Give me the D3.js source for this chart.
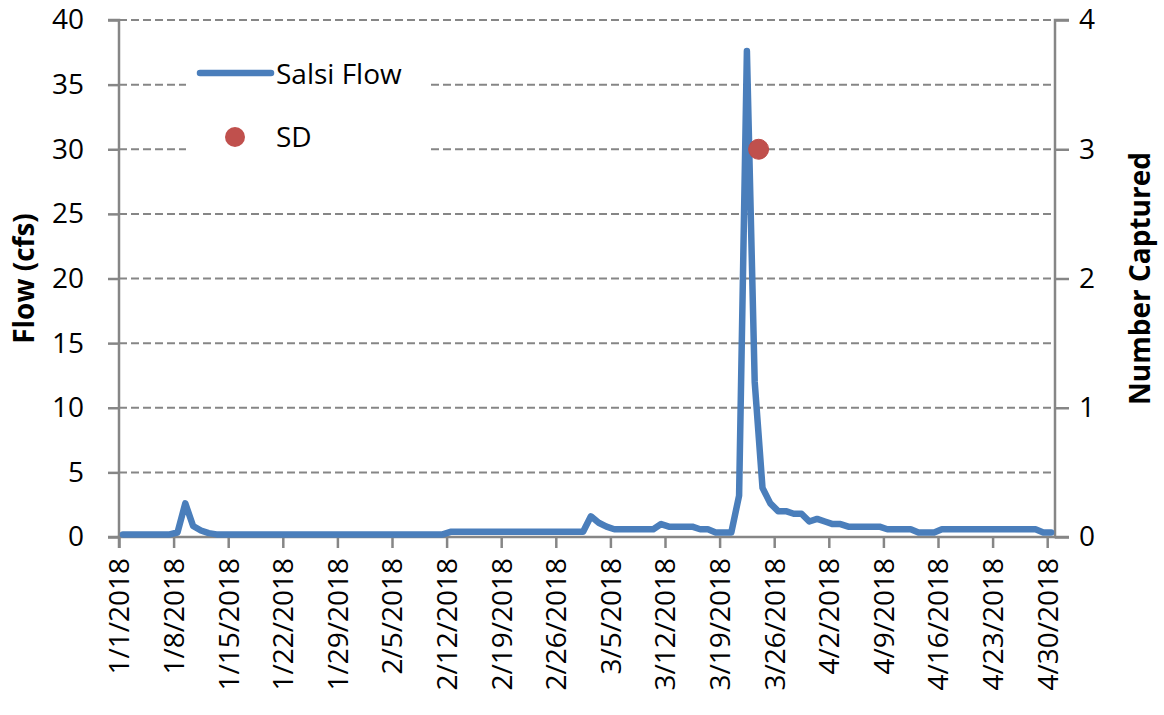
<!DOCTYPE html>
<html>
<head>
<meta charset="utf-8">
<script src="https://cdn.jsdelivr.net/npm/d3@7"></script>
<style>
  html, body { margin: 0; padding: 0; background: #ffffff; }
  svg { display: block; }
  text { font-family: "Open Sans", "Liberation Sans", sans-serif; fill: #000; }
</style>
</head>
<body>
<svg id="chart" width="1164" height="715"></svg>
<script>
// ---------- data ----------
const startDate = "2018-01-01";   // first daily value (1/1/2018)
const endDate = "2018-05-01";     // end of axis range
const flowValues = [
  0.2, 0.2, 0.2, 0.2, 0.2, 0.2, 0.2, 0.35, 2.6, 0.85,
  0.5, 0.3, 0.2, 0.2, 0.2, 0.2, 0.2, 0.2, 0.2, 0.2,
  0.2, 0.2, 0.2, 0.2, 0.2, 0.2, 0.2, 0.2, 0.2, 0.2,
  0.2, 0.2, 0.2, 0.2, 0.2, 0.2, 0.2, 0.2, 0.2, 0.2,
  0.2, 0.2, 0.4, 0.4, 0.4, 0.4, 0.4, 0.4, 0.4, 0.4,
  0.4, 0.4, 0.4, 0.4, 0.4, 0.4, 0.4, 0.4, 0.4, 0.4,
  1.6, 1.1, 0.8, 0.6, 0.6, 0.6, 0.6, 0.6, 0.6, 1.0,
  0.8, 0.8, 0.8, 0.8, 0.6, 0.6, 0.35, 0.35, 0.35, 3.2,
  37.6, 12.0, 3.8, 2.6, 2.0, 2.0, 1.8, 1.8, 1.2, 1.4,
  1.2, 1.0, 1.0, 0.8, 0.8, 0.8, 0.8, 0.8, 0.6, 0.6,
  0.6, 0.6, 0.35, 0.35, 0.35, 0.6, 0.6, 0.6, 0.6, 0.6,
  0.6, 0.6, 0.6, 0.6, 0.6, 0.6, 0.6, 0.6, 0.35, 0.35
];
const sdDates = ["2018-03-24"];
const sdValues = [3];
const xTickLabels = ["1/1/2018","1/8/2018","1/15/2018","1/22/2018","1/29/2018","2/5/2018",
  "2/12/2018","2/19/2018","2/26/2018","3/5/2018","3/12/2018","3/19/2018","3/26/2018",
  "4/2/2018","4/9/2018","4/16/2018","4/23/2018","4/30/2018"];
const yLeftTicks = [0, 5, 10, 15, 20, 25, 30, 35, 40];
const yRightTicks = [0, 1, 2, 3, 4];
const seriesNames = ["Salsi Flow", "SD"];
const axisTitles = { left: "Flow (cfs)", right: "Number Captured" };

// ---------- layout ----------
const svg = d3.select("#chart");
const plot = { left: 119, right: 1055, top: 20, bottom: 537 };
const gridColor = "#868686";
const lineColor = "#4A7EBB";
const markerColor = "#C0504D";

const parse = d3.timeParse("%Y-%m-%d");
const parseLabel = d3.timeParse("%m/%d/%Y");
const t0 = parse(startDate);
const flowData = flowValues.map((v, i) => ({ date: d3.timeDay.offset(t0, i), value: v }));
const sdData = sdDates.map((d, i) => ({ date: parse(d), value: sdValues[i] }));

const x = d3.scaleTime().domain([t0, parse(endDate)]).range([plot.left, plot.right]);
const yL = d3.scaleLinear().domain([0, 40]).range([plot.bottom, plot.top]);
const yR = d3.scaleLinear().domain([0, 4]).range([plot.bottom, plot.top]);

// gridlines
svg.append("g").selectAll("line").data(yLeftTicks.filter(d => d > 0)).join("line")
  .attr("x1", plot.left).attr("x2", plot.right)
  .attr("y1", d => yL(d)).attr("y2", d => yL(d))
  .attr("stroke", gridColor).attr("stroke-width", 2).attr("stroke-dasharray", "8,4");

// legend background (covers gridlines)
svg.append("rect").attr("x", 186).attr("y", 45).attr("width", 241).attr("height", 125).attr("fill", "#fff");

// left axis
const axisL = d3.axisLeft(yL).tickValues(yLeftTicks).tickSize(11).tickPadding(24).tickFormat(d3.format("d"));
const gL = svg.append("g").attr("transform", `translate(${plot.left},0)`).call(axisL);
// right axis
const axisR = d3.axisRight(yR).tickValues(yRightTicks).tickSize(14).tickPadding(10).tickFormat(d3.format("d"));
const gR = svg.append("g").attr("transform", `translate(${plot.right},0)`).call(axisR);
// bottom axis
const tickDates = xTickLabels.map(s => parseLabel(s));
const axisB = d3.axisBottom(x).tickValues(tickDates).tickSize(11).tickFormat((d, i) => xTickLabels[i]);
const gB = svg.append("g").attr("transform", `translate(0,${plot.bottom})`).call(axisB);

[gL, gR, gB].forEach(g => {
  g.select(".domain").attr("stroke", gridColor).attr("stroke-width", 2.5);
  g.selectAll(".tick line").attr("stroke", gridColor).attr("stroke-width", 2.5);
  g.selectAll("text").attr("font-size", 28).attr("fill", "#000")
    .style("font-family", '"Open Sans", "Liberation Sans", sans-serif');
});
gL.select(".domain").attr("d", `M-11,${plot.top}H0V${plot.bottom}H-11`);
gR.select(".domain").attr("d", `M14,${plot.top}H0V${plot.bottom}H14`);
gB.select(".domain").attr("d", `M${plot.left},11V0H${plot.right}`);
gB.selectAll(".tick text")
  .attr("text-anchor", "end")
  .attr("transform", "rotate(-90)")
  .attr("x", -21).attr("y", 0).attr("dy", "0.35em");

// flow line (daily values plotted at mid-day)
const line = d3.line()
  .x(d => x(d3.timeHour.offset(d.date, 12)))
  .y(d => yL(d.value));
svg.append("path").datum(flowData)
  .attr("d", line).attr("fill", "none")
  .attr("stroke", lineColor).attr("stroke-width", 6.5)
  .attr("stroke-linejoin", "round").attr("stroke-linecap", "round");

// SD markers
svg.append("g").selectAll("circle").data(sdData).join("circle")
  .attr("cx", d => x(d.date)).attr("cy", d => yR(d.value)).attr("r", 10)
  .attr("fill", markerColor).attr("stroke", "#BE4B48").attr("stroke-width", 1);

// legend
const lg = svg.append("g");
lg.append("line").attr("x1", 200).attr("x2", 271).attr("y1", 73).attr("y2", 73)
  .attr("stroke", lineColor).attr("stroke-width", 6.5).attr("stroke-linecap", "round");
lg.append("text").attr("x", 276).attr("y", 84).attr("font-size", 28).text(seriesNames[0]);
lg.append("circle").attr("cx", 235).attr("cy", 137).attr("r", 10).attr("fill", markerColor);
lg.append("text").attr("x", 276).attr("y", 147).attr("font-size", 28).text(seriesNames[1]);

// axis titles
const midY = (plot.top + plot.bottom) / 2;
svg.append("text").attr("transform", `translate(34,${midY}) rotate(-90)`)
  .attr("text-anchor", "middle").attr("font-size", 28).attr("font-weight", "bold").text(axisTitles.left);
svg.append("text").attr("transform", `translate(1150,${midY}) rotate(-90)`)
  .attr("text-anchor", "middle").attr("font-size", 28).attr("font-weight", "bold").text(axisTitles.right);
</script>
</body>
</html>
